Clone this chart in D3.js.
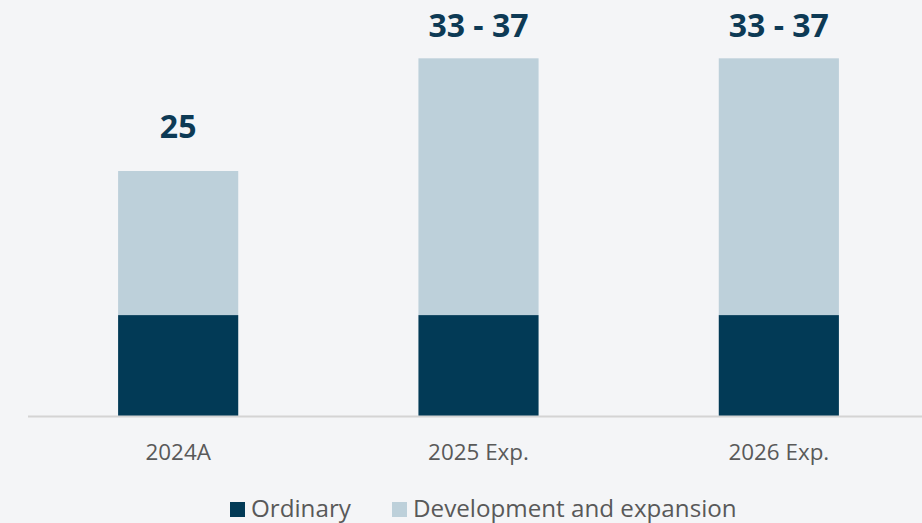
<!DOCTYPE html>
<html>
<head>
<meta charset="utf-8">
<script src="https://cdn.jsdelivr.net/npm/d3@7"></script>
<style>
  html, body { margin: 0; padding: 0; background: #f4f5f7; }
  svg { display: block; font-family: 'Open Sans', 'Noto Sans', sans-serif; }
  .tick-label { fill: #595959; font-size: 22.4px; }
  .total-label { fill: #0d3a55; font-size: 32px; font-weight: 700; }
  .legend-text { fill: #595959; font-size: 24.2px; }
</style>
</head>
<body>
<div id="chart"></div>
<script>
const categories = ['2024A', '2025 Exp.', '2026 Exp.'];
const ordinary = [10.3, 10.3, 10.3];
const development = [14.7, 26.2, 26.2];
const totalLabels = ['25', '33 - 37', '33 - 37'];
const seriesNames = ['Ordinary', 'Development and expansion'];
const seriesColors = ['#023a56', '#bdd0da'];

const width = 922, height = 523;
const baseline = 416;

const svg = d3.select('#chart').append('svg')
    .attr('width', width).attr('height', height);

svg.append('rect').attr('width', width).attr('height', height).attr('fill', '#f4f5f7');

const x = d3.scaleBand()
    .domain(categories)
    .range([28, 929])
    .paddingInner(0.6)
    .paddingOuter(0.3);

const y = d3.scaleLinear()
    .domain([0, 42.45])
    .range([baseline, 0]);

const data = categories.map((c, i) => ({ cat: c, ordinary: ordinary[i], development: development[i], label: totalLabels[i] }));
const stack = d3.stack().keys(['ordinary', 'development'])(data);

// Bars
svg.selectAll('.layer')
    .data(stack)
    .enter().append('g')
    .attr('fill', (d, i) => seriesColors[i])
    .selectAll('rect')
    .data(d => d)
    .enter().append('rect')
    .attr('x', d => x(d.data.cat))
    .attr('y', d => y(d[1]))
    .attr('width', x.bandwidth())
    .attr('height', d => y(d[0]) - y(d[1]));

// Baseline
svg.append('line')
    .attr('x1', 28).attr('x2', width)
    .attr('y1', baseline + 0.5).attr('y2', baseline + 0.5)
    .attr('stroke', '#d4d4d4').attr('stroke-width', 2);

// Total labels
svg.selectAll('.total-label')
    .data(data)
    .enter().append('text')
    .attr('class', 'total-label')
    .attr('x', d => x(d.cat) + x.bandwidth() / 2)
    .attr('y', d => Math.max(y(d.ordinary + d.development) - 33, 37))
    .attr('text-anchor', 'middle')
    .text(d => d.label);

// X axis labels
svg.selectAll('.tick-label')
    .data(categories)
    .enter().append('text')
    .attr('class', 'tick-label')
    .attr('x', d => x(d) + x.bandwidth() / 2)
    .attr('y', 460)
    .attr('text-anchor', 'middle')
    .text(d => d);

// Legend
const legendX = [230, 392];
const legend = svg.selectAll('.legend')
    .data(seriesNames)
    .enter().append('g')
    .attr('transform', (d, i) => `translate(${legendX[i]},502)`);

legend.append('rect')
    .attr('width', 15).attr('height', 15)
    .attr('fill', (d, i) => seriesColors[i]);

legend.append('text')
    .attr('class', 'legend-text')
    .attr('x', 21).attr('y', 15)
    .text(d => d);
</script>
</body>
</html>
